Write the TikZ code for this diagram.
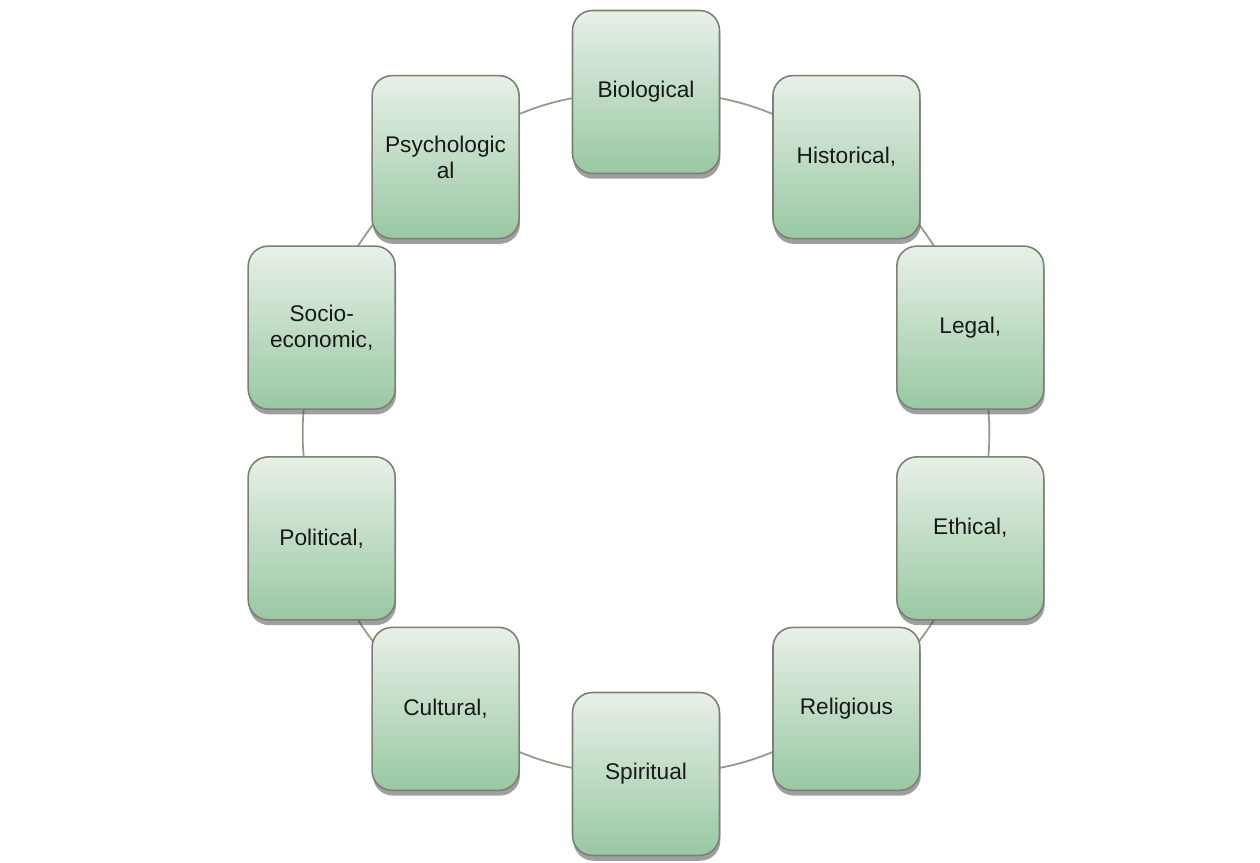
\documentclass[tikz,border=0pt]{standalone}
\usepackage{fontspec}
\setmainfont{Liberation Sans}
\usetikzlibrary{shadows,backgrounds,calc}
\definecolor{boxtop}{HTML}{E8F0E8}
\definecolor{boxbot}{HTML}{98C8A2}
\definecolor{boxline}{HTML}{7E7E76}
\definecolor{connc}{HTML}{8E9C88}
\tikzset{
  catbox/.style={draw=boxline, line width=0.9pt, rounded corners=0.4cm,
    minimum width=2.94cm, minimum height=3.26cm, top color=boxtop, bottom color=boxbot,
    align=center, font=\fontsize{12.9}{15}\selectfont, text=black!90,
    drop shadow={shadow xshift=0.5pt, shadow yshift=-3pt, opacity=0.5, fill=black!75}},
  conn/.style={draw=connc, line width=1pt}
}
\begin{document}
\begin{tikzpicture}[x=0.02cm,y=0.02cm]
\useasboundingbox (0,0) rectangle (1260,862);
\coordinate (c) at (646,429);
\node[catbox] (bio) at ($(c)+(90:341)$) {Biological};
\node[catbox] (his) at ($(c)+(54:341)$) {Historical,};
\node[catbox] (leg) at ($(c)+(18:341)$) {Legal,};
\node[catbox] (eth) at ($(c)+(-18:341)$) {\raisebox{14pt}{Ethical,}};
\node[catbox] (rel) at ($(c)+(-54:341)$) {Religious};
\node[catbox] (spi) at ($(c)+(-90:341)$) {Spiritual};
\node[catbox] (cul) at ($(c)+(-126:341)$) {Cultural,};
\node[catbox] (pol) at ($(c)+(-162:341)$) {Political,};
\node[catbox] (soc) at ($(c)+(162:341)$) {Socio-\\economic,};
\node[catbox] (psy) at ($(c)+(126:341)$) {Psychologic\\al};
\begin{scope}[on background layer]
\draw[conn] (bio.center) to[bend left=18] (his.center);
\draw[conn] (his.center) to[bend left=18] (leg.center);
\draw[conn] (leg.center) to[bend left=18] (eth.center);
\draw[conn] (eth.center) to[bend left=18] (rel.center);
\draw[conn] (rel.center) to[bend left=18] (spi.center);
\draw[conn] (spi.center) to[bend left=18] (cul.center);
\draw[conn] (cul.center) to[bend left=18] (pol.center);
\draw[conn] (pol.center) to[bend left=18] (soc.center);
\draw[conn] (soc.center) to[bend left=18] (psy.center);
\draw[conn] (psy.center) to[bend left=18] (bio.center);
\end{scope}
\end{tikzpicture}
\end{document}
